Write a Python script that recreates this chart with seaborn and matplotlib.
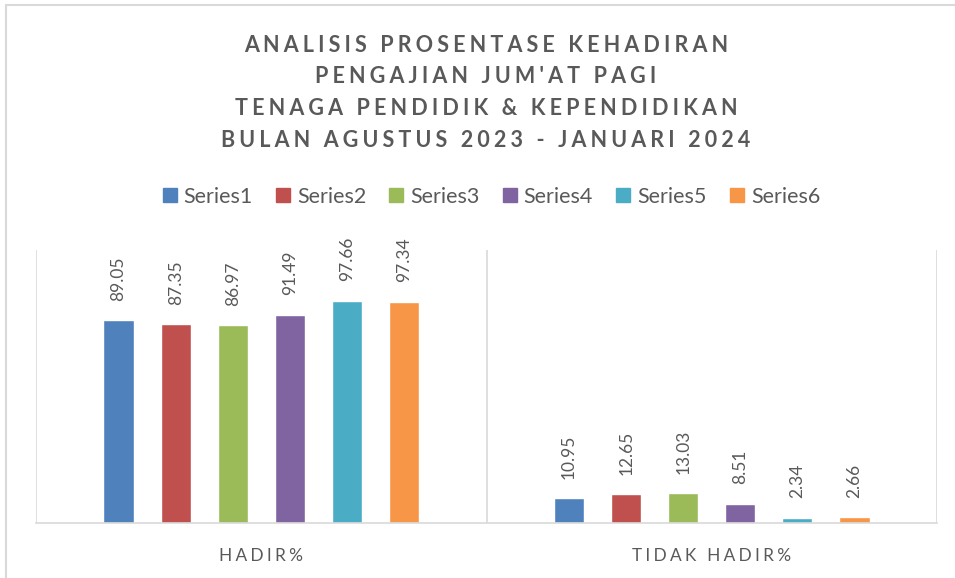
import pandas as pd
import numpy as np
import matplotlib.pyplot as plt
import matplotlib.lines as mlines
import seaborn as sns

# Data
kategori = ['HADIR%', 'TIDAK HADIR%']
seri = ['Series1', 'Series2', 'Series3', 'Series4', 'Series5', 'Series6']
hadir = [89.05, 87.35, 86.97, 91.49, 97.66, 97.34]
tidak_hadir = [10.95, 12.65, 13.03, 8.51, 2.34, 2.66]
warna = ['#4F81BD', '#C0504D', '#9BBB59', '#8064A2', '#4BACC6', '#F79646']

judul = ["ANALISIS PROSENTASE KEHADIRAN",
         "PENGAJIAN JUM'AT PAGI",
         "TENAGA PENDIDIK & KEPENDIDIKAN",
         "BULAN AGUSTUS 2023 - JANUARI 2024"]

df = pd.DataFrame({
    'kategori': [kategori[0]] * len(seri) + [kategori[1]] * len(seri),
    'seri': seri + seri,
    'nilai': hadir + tidak_hadir,
})

sns.set_style('white')
plt.rcParams['font.family'] = ['Lato', 'DejaVu Sans']
abu = '#595959'
garis = '#d9d9d9'


def spasi(teks, sp='\u200a'):
    # emulate Excel character spacing
    return sp.join(list(teks))


fig = plt.figure(figsize=(9.55, 5.78), dpi=100)
ax = fig.add_axes([36 / 955, 55 / 578, 901 / 955, 273 / 578])

sns.barplot(data=df, x='kategori', y='nilai', hue='seri', palette=warna,
            width=0.76, gap=0.47, ax=ax, legend=False, saturation=1)

for c in ax.containers:
    ax.bar_label(c, fmt='%.2f', rotation=90, padding=14, color=abu, fontsize=12.5)

ax.set_xlim(-0.5, 1.5)
ax.set_ylim(0, 120)
ax.set_yticks([])
ax.set_xlabel('')
ax.set_ylabel('')
ax.set_xticks([0, 1])
ax.set_xticklabels([spasi(k, '\u2009\u200a') for k in kategori], color=abu, fontsize=12.4)
ax.tick_params(axis='x', length=0, pad=18)
for s in ['top', 'right', 'left']:
    ax.spines[s].set_visible(False)
ax.spines['bottom'].set_color(garis)
ax.spines['bottom'].set_linewidth(1.2)
for xv in [-0.5, 0.5, 1.5]:
    ax.axvline(xv, color=garis, lw=1.2, zorder=0)

# title
for i, baris in enumerate(judul):
    fig.text(486 / 955, 1 - (45 + i * 31.7) / 578, spasi(baris, '\u2009\u200a'), ha='center', va='center',
             fontsize=15.5, fontweight='bold', color=abu)

# legend
handles = [mlines.Line2D([], [], marker='s', linestyle='none', markersize=10,
                         markerfacecolor=w, markeredgecolor=w) for w in warna]
fig.legend(handles, seri, loc='center', bbox_to_anchor=(491 / 955, 1 - 197 / 578),
           ncol=6, frameon=False, fontsize=15.5, labelcolor=abu,
           handletextpad=0.3, columnspacing=1.05, handlelength=0.7)

# outer chart border (top and left visible)
fig.add_artist(mlines.Line2D([6 / 955, 1], [1 - 5 / 578, 1 - 5 / 578], color=garis, lw=1.5))
fig.add_artist(mlines.Line2D([6 / 955, 6 / 955], [0, 1 - 5 / 578], color=garis, lw=1.5))

fig.savefig('out.png', dpi=100)
